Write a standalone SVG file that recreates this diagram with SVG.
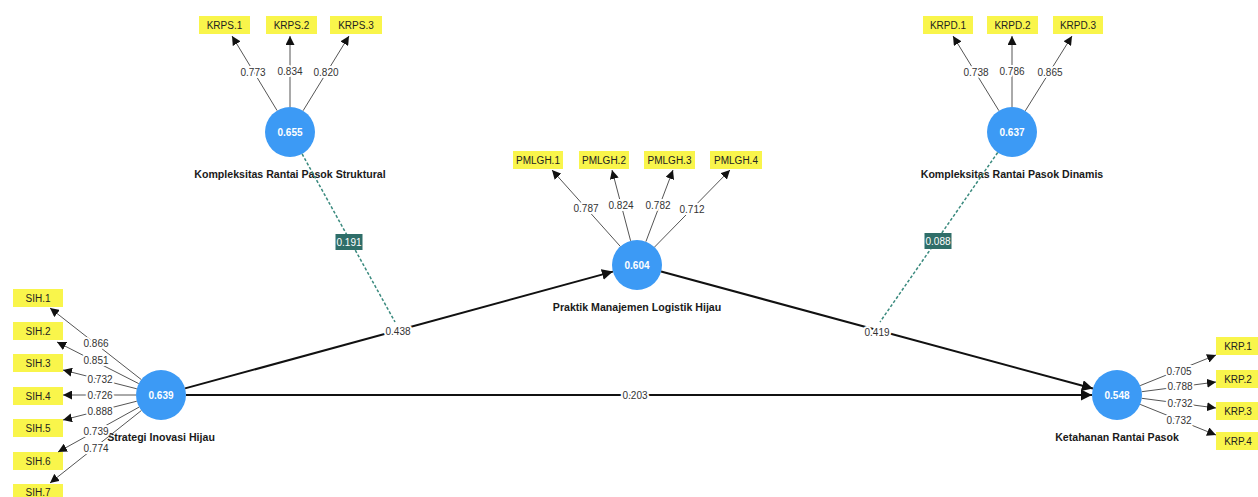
<svg xmlns="http://www.w3.org/2000/svg" width="1258" height="497" viewBox="0 0 1258 497">
<style>
.ind{fill:#f9f54b}
.indt{font-family:"Liberation Sans",Arial,sans-serif;font-size:10px;fill:#222;text-anchor:middle}
.lv{fill:#3c9af5}
.lvt{font-family:"Liberation Sans",Arial,sans-serif;font-size:10px;font-weight:bold;fill:#fff;text-anchor:middle}
.title{font-family:"Liberation Sans",Arial,sans-serif;font-size:10.6px;font-weight:bold;fill:#1a1a1a;text-anchor:middle}
.ld{stroke:#555;stroke-width:1;fill:none;marker-end:url(#ah)}
.path{stroke:#111;stroke-width:2;fill:none;marker-end:url(#ahb)}
.mod{stroke:#3a8a7e;stroke-width:1.5;stroke-dasharray:3 2;fill:none}
.lbl{font-family:"Liberation Sans",Arial,sans-serif;font-size:10px;fill:#333;text-anchor:middle;paint-order:stroke;stroke:#fff;stroke-width:4px;stroke-linejoin:round}
.mbox{fill:#2f6e69}
.mt{font-family:"Liberation Sans",Arial,sans-serif;font-size:10px;fill:#fff;text-anchor:middle}
</style>
<defs>
<marker id="ah" viewBox="0 0 10 10" refX="10" refY="5" markerWidth="9" markerHeight="9" markerUnits="userSpaceOnUse" orient="auto"><path d="M0,0 L10,5 L0,10 z" fill="#111"/></marker>
<marker id="ahb" viewBox="0 0 10 10" refX="10" refY="5" markerWidth="11" markerHeight="11" markerUnits="userSpaceOnUse" orient="auto"><path d="M0,0 L10,5 L0,10 z" fill="#111"/></marker>
</defs>
<rect width="1258" height="497" fill="#fff"/>

<g id="KRPS">
<rect class="ind" x="199" y="16" width="51" height="18"/><text class="indt" x="224.5" y="29">KRPS.1</text>
<rect class="ind" x="266" y="16" width="51" height="18"/><text class="indt" x="291.5" y="29">KRPS.2</text>
<rect class="ind" x="330" y="16" width="52" height="18"/><text class="indt" x="356" y="29">KRPS.3</text>
<circle class="lv" cx="290" cy="132" r="25"/><text class="lvt" x="290" y="136">0.655</text>
<text class="title" x="290" y="178">Kompleksitas Rantai Pasok Struktural</text>
</g>

<g id="KRPD">
<rect class="ind" x="923" y="16" width="50" height="18"/><text class="indt" x="948" y="29">KRPD.1</text>
<rect class="ind" x="987" y="16" width="51" height="18"/><text class="indt" x="1012.5" y="29">KRPD.2</text>
<rect class="ind" x="1053" y="16" width="50" height="18"/><text class="indt" x="1078" y="29">KRPD.3</text>
<circle class="lv" cx="1012" cy="132" r="25"/><text class="lvt" x="1012" y="136">0.637</text>
<text class="title" x="1012" y="178">Kompleksitas Rantai Pasok Dinamis</text>
</g>

<g id="PMLGH">
<rect class="ind" x="513" y="151" width="50" height="18"/><text class="indt" x="538" y="164">PMLGH.1</text>
<rect class="ind" x="579" y="151" width="50" height="18"/><text class="indt" x="604" y="164">PMLGH.2</text>
<rect class="ind" x="644" y="151" width="51" height="18"/><text class="indt" x="669.5" y="164">PMLGH.3</text>
<rect class="ind" x="710" y="151" width="52" height="18"/><text class="indt" x="736" y="164">PMLGH.4</text>
<circle class="lv" cx="637" cy="265" r="25"/><text class="lvt" x="637" y="269">0.604</text>
<text class="title" x="637" y="311">Praktik Manajemen Logistik Hijau</text>
</g>

<g id="SIH">
<rect class="ind" x="13" y="289" width="50" height="18"/><text class="indt" x="38" y="302">SIH.1</text>
<rect class="ind" x="13" y="322" width="50" height="18"/><text class="indt" x="38" y="335">SIH.2</text>
<rect class="ind" x="13" y="354" width="50" height="18"/><text class="indt" x="38" y="367">SIH.3</text>
<rect class="ind" x="13" y="387" width="50" height="18"/><text class="indt" x="38" y="400">SIH.4</text>
<rect class="ind" x="13" y="419" width="50" height="18"/><text class="indt" x="38" y="432">SIH.5</text>
<rect class="ind" x="13" y="452" width="50" height="18"/><text class="indt" x="38" y="465">SIH.6</text>
<rect class="ind" x="13" y="484" width="50" height="18"/><text class="indt" x="38" y="496">SIH.7</text>
<circle class="lv" cx="161" cy="395" r="25"/><text class="lvt" x="161" y="399">0.639</text>
<text class="title" x="161" y="441">Strategi Inovasi Hijau</text>
</g>

<g id="KRP">
<rect class="ind" x="1216" y="337" width="44" height="18"/><text class="indt" x="1238" y="350">KRP.1</text>
<rect class="ind" x="1216" y="370" width="44" height="18"/><text class="indt" x="1238" y="383">KRP.2</text>
<rect class="ind" x="1216" y="402" width="44" height="18"/><text class="indt" x="1238" y="415">KRP.3</text>
<rect class="ind" x="1216" y="432" width="44" height="18"/><text class="indt" x="1238" y="445">KRP.4</text>
<circle class="lv" cx="1117" cy="395" r="25"/><text class="lvt" x="1117" y="399">0.548</text>
<text class="title" x="1117" y="441">Ketahanan Rantai Pasok</text>
</g>

<g id="connectors">
<line class="ld" x1="277.1" y1="110.6" x2="232" y2="36"/>
<line class="ld" x1="290" y1="107" x2="290" y2="36"/>
<line class="ld" x1="303.1" y1="110.7" x2="349" y2="36"/>
<text class="lbl" x="253" y="76">0.773</text>
<text class="lbl" x="290" y="75">0.834</text>
<text class="lbl" x="326" y="76">0.820</text>
<line class="ld" x1="998.9" y1="110.7" x2="953" y2="36"/>
<line class="ld" x1="1012" y1="107" x2="1012" y2="36"/>
<line class="ld" x1="1025.3" y1="110.8" x2="1072" y2="36"/>
<text class="lbl" x="976" y="76">0.738</text>
<text class="lbl" x="1012" y="75">0.786</text>
<text class="lbl" x="1050" y="76">0.865</text>
<line class="ld" x1="620.3" y1="246.4" x2="552" y2="170"/>
<line class="ld" x1="630.6" y1="240.8" x2="612" y2="170"/>
<line class="ld" x1="645.9" y1="241.6" x2="673" y2="170"/>
<line class="ld" x1="654.5" y1="247.1" x2="730" y2="170"/>
<text class="lbl" x="586" y="212">0.787</text>
<text class="lbl" x="621" y="209">0.824</text>
<text class="lbl" x="658" y="209">0.782</text>
<text class="lbl" x="692" y="213">0.712</text>
<line class="ld" x1="141.3" y1="379.6" x2="50" y2="308"/>
<line class="ld" x1="138.7" y1="383.6" x2="57" y2="342"/>
<line class="ld" x1="136.8" y1="388.8" x2="63" y2="370"/>
<line class="ld" x1="136" y1="395" x2="63" y2="395"/>
<line class="ld" x1="136.8" y1="401.2" x2="63" y2="420"/>
<line class="ld" x1="139.1" y1="407.1" x2="58" y2="452"/>
<line class="ld" x1="141.4" y1="410.5" x2="50" y2="483"/>
<text class="lbl" x="96" y="347">0.866</text>
<text class="lbl" x="96" y="364">0.851</text>
<text class="lbl" x="100" y="383">0.732</text>
<text class="lbl" x="100" y="399">0.726</text>
<text class="lbl" x="100" y="415">0.888</text>
<text class="lbl" x="96" y="435">0.739</text>
<text class="lbl" x="96" y="452">0.774</text>
<line class="ld" x1="1140.2" y1="385.6" x2="1216" y2="355"/>
<line class="ld" x1="1141.8" y1="391.7" x2="1216" y2="382"/>
<line class="ld" x1="1141.8" y1="398.3" x2="1216" y2="408"/>
<line class="ld" x1="1140.2" y1="404.4" x2="1216" y2="435"/>
<text class="lbl" x="1179" y="375">0.705</text>
<text class="lbl" x="1180" y="390">0.788</text>
<text class="lbl" x="1180" y="407">0.732</text>
<text class="lbl" x="1179" y="424">0.732</text>
<line class="mod" x1="302.1" y1="153.9" x2="395" y2="322"/>
<line class="mod" x1="997.7" y1="152.5" x2="880" y2="322"/>
<rect class="mbox" x="335.5" y="234" width="27" height="16"/><text class="mt" x="349" y="246">0.191</text>
<rect class="mbox" x="924.5" y="233" width="27" height="16"/><text class="mt" x="938" y="245">0.088</text>
<line class="path" x1="185.1" y1="388.4" x2="612.9" y2="271.6"/>
<line class="path" x1="661.1" y1="271.5" x2="1092.9" y2="388.5"/>
<line class="path" x1="186" y1="395" x2="1092" y2="395"/>
<text class="lbl" x="398" y="335">0.438</text>
<text class="lbl" x="877" y="336">0.419</text>
<text class="lbl" x="635" y="399">0.203</text>
</g>
</svg>
